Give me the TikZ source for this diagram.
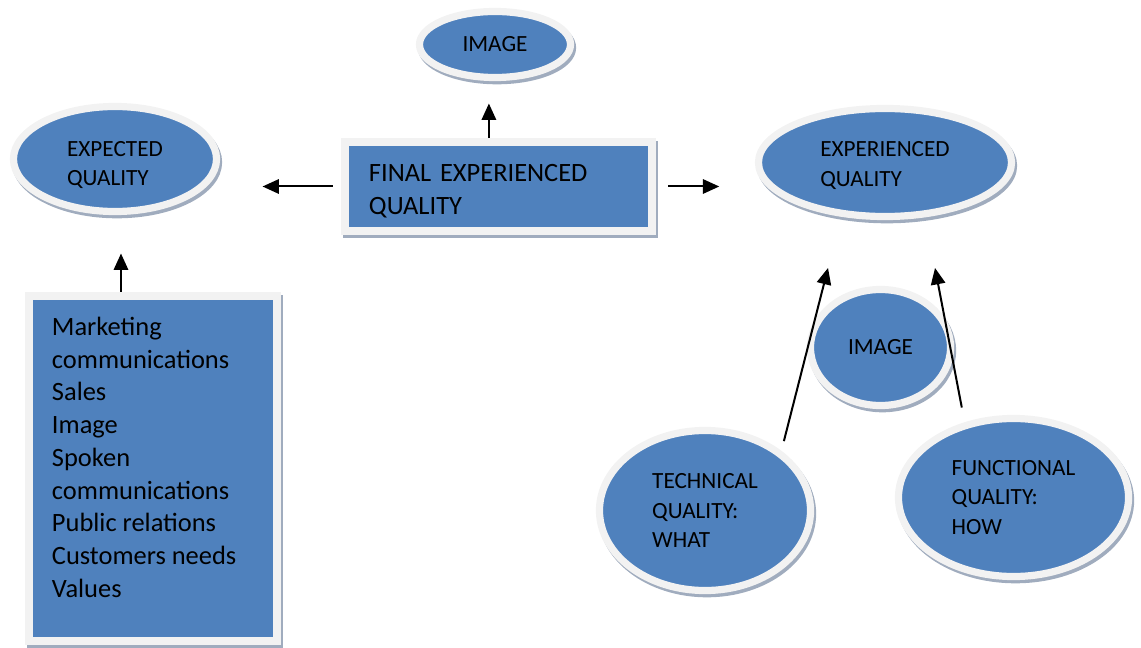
\documentclass[tikz,border=0pt]{standalone}
\usepackage{fontspec}
\setmainfont{Carlito}
\usepackage{tikz}
\usetikzlibrary{arrows.meta,shapes.geometric,calc}
\definecolor{qblue}{RGB}{79,129,189}
\definecolor{qring}{RGB}{242,242,242}
\definecolor{qshadow}{RGB}{160,172,190}
\tikzset{
	shadowed/.style={preaction={draw=qshadow, fill=qshadow, line width=#1, transform canvas={shift={(0.05cm,-0.08cm)}}}},
	oval/.style={ellipse, fill=qblue, draw=qring, line width=0.18cm, shadowed=0.18cm, inner sep=0pt, align=left,
		font=\fontsize{16.5}{21}\selectfont},
	panel/.style={rectangle, fill=qblue, draw=qring, line width=0.2cm, shadowed=0.2cm, inner sep=0pt,
		font=\fontsize{18.8}{23.3}\selectfont},
	arr/.style={-{Triangle[length=0.41cm,width=0.36cm]}, line width=0.05cm, draw=black}
}

\begin{document}
\begin{tikzpicture}[x=0.025cm, y=-0.025cm]
		%%%%% START %%%%%
		\useasboundingbox (0, 0) rectangle (1141, 648);
		
		\node[oval, minimum width=3.775cm, minimum height=1.65cm] (topimg) at (495, 44.5) {IMAGE};
		\node[oval, minimum width=5.075cm, minimum height=2.625cm] (expq) at (115, 159) {\rule{0pt}{19pt}EXPECTED\\QUALITY};
		\node[oval, minimum width=6.325cm, minimum height=2.7cm] (expdq) at (885, 162.5) {\rule{0pt}{15pt}EXPERIENCED\\QUALITY};
		
		\node[panel, minimum width=7.675cm, minimum height=2.225cm, text width=6.475cm, align=left] (final) at (498.5, 186.5) {\rule{0pt}{19pt}FINAL EXPERIENCED\\QUALITY};
		
		\node[panel, minimum width=6.2cm, minimum height=8.625cm] (sources) at (153, 468.5)
			{\parbox[c][7.575cm][t]{5.05cm}{\raggedright Marketing\\communications\\Sales\\Image\\Spoken\\communications\\Public relations\\Customers needs\\Values}};
		
		\node[oval, minimum width=3.5cm, minimum height=2.9cm] (midimg) at (880.5, 347.5) {IMAGE};
		\node[oval, minimum width=5.275cm, minimum height=4cm] (tech) at (705, 510.5) {TECHNICAL\\QUALITY:\\WHAT};
		\node[oval, minimum width=5.75cm, minimum height=3.95cm] (func) at (1013.5, 497.5) {FUNCTIONAL\\QUALITY:\\HOW};
		
		\coordinate (techtip) at (828, 268);
		\coordinate (functip) at (935, 268);
		
		% arrows
		\draw[arr, shorten >=0.56cm] ([xshift=-0.24cm]final.north) -- ([xshift=-0.24cm]final.north |- topimg.south);
		\draw[arr, shorten <=0.2cm, shorten >=1.06cm] (final.west) -- (final.west -| expq.east);
		\draw[arr, shorten <=0.3cm, shorten >=0.89cm] (final.east) -- (final.east -| expdq.west);
		\draw[arr, shorten >=0.96cm] ([xshift=-0.8cm]sources.north) -- ([xshift=-0.8cm]sources.north |- expq.south);
		\draw[arr, shorten <=0.25cm] (tech.38) -- (techtip);
		\draw[arr, shorten <=0.375cm] (func.123) -- (functip);
		
		%%%%% END %%%%%
	\end{tikzpicture}
\end{document}
